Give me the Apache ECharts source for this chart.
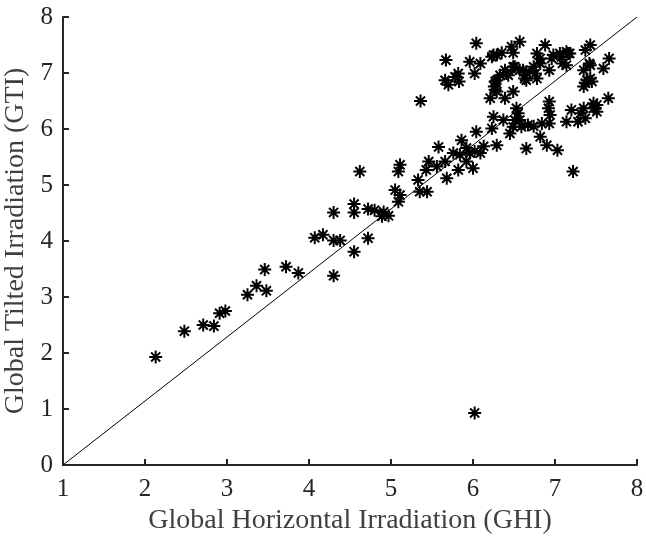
<!DOCTYPE html>
<html>
<head>
<meta charset="utf-8">
<script src="https://cdn.jsdelivr.net/npm/echarts@6/dist/echarts.min.js"></script>
<style>html,body{margin:0;padding:0;background:#fff;}#c{width:646px;height:542px;}</style>
</head>
<body>
<div id="c"></div>
<script>
var xTicks = [1,2,3,4,5,6,7,8];
var yTicks = [0,1,2,3,4,5,6,7,8];
var xName = 'Global Horizontal Irradiation (GHI)';
var yName = 'Global Tilted Irradiation (GTI)';
var refLineX = [1, 8];
var refLineY = [0, 8];
var ghi = [2.13,2.48,2.71,2.84,2.91,2.98,3.25,3.36,3.48,3.46,3.72,3.87,4.07,4.17,4.30,4.38,4.30,4.30,4.55,4.55,4.55,4.72,
4.62,4.72,4.80,4.91,4.89,4.97,5.05,5.11,5.09,5.11,5.09,5.33,5.35,5.44,5.46,5.43,5.56,5.66,5.68,5.76,5.82,6.00,5.92,5.96,6.09,6.13,5.58,5.86,5.92,6.02,6.04,5.84,6.29,6.65,6.82,6.90,7.03,7.22,5.36,6.02,
6.23,6.25,6.37,6.45,6.49,6.51,6.57,6.55,6.53,6.59,6.67,6.74,6.84,6.93,6.94,6.92,6.93,7.14,7.28,7.37,7.31,7.20,7.35,7.47,7.51,7.51,7.65,7.47,6.39,6.21,6.49,6.29,6.27,
5.67,6.04,6.57,6.47,6.49,6.88,6.23,6.29,6.35,5.96,6.09,6.02,5.82,5.78,5.66,5.70,5.83,6.78,6.82,6.98,7.06,7.14,7.18,6.93,6.74,6.65,6.57,6.49,6.39,6.33,6.43,6.78,6.63,6.27,6.26,7.09,7.37,7.43,7.42,7.35,7.59,7.66,7.43,7.37,7.35,7.45,7.39,6.96,6.82,6.76,6.61,6.51,6.25,6.41,6.29,6.65,7.14,7.43,7.08,7.16];
var gti = [1.93,2.39,2.50,2.48,2.71,2.75,3.04,3.20,3.11,3.49,3.54,3.43,4.06,4.11,4.01,4.01,3.38,4.51,3.81,4.66,4.51,4.05,
5.24,4.57,4.55,4.52,4.44,4.45,4.91,4.82,4.70,5.36,5.24,5.09,4.88,4.88,5.42,5.27,5.33,5.42,5.12,5.57,5.27,5.30,5.42,5.57,5.57,5.69,5.68,5.80,5.66,5.60,5.95,5.54,5.71,5.65,5.86,5.71,5.62,5.24,6.50,0.93,
6.01,6.22,6.16,5.92,6.04,6.16,6.16,6.28,6.37,6.04,6.07,6.05,6.10,6.10,6.25,6.37,6.49,6.13,6.13,6.19,6.28,6.34,6.37,6.37,6.31,6.43,6.55,6.46,6.55,6.55,6.67,6.67,6.70,
7.23,7.53,7.56,7.47,7.36,7.50,7.29,7.32,7.36,7.20,7.17,6.99,6.99,6.93,6.87,6.79,6.85,7.35,7.26,7.32,7.35,7.38,7.35,7.05,7.11,7.02,7.05,7.11,7.05,6.96,6.96,6.90,6.90,6.85,6.76,7.17,7.41,7.50,7.17,7.05,7.08,7.26,6.90,6.82,6.76,6.85,6.87,7.26,7.17,6.99,7.05,7.11,7.32,6.99,6.87,6.87,7.14,7.14,7.29,7.35];

var pts = ghi.map(function(v,i){return [v, gti[i]];});
var refLine = refLineX.map(function(v,i){return [v, refLineY[i]];});
var font = '"Liberation Serif", "DejaVu Serif", serif';
var ink = '#262626';
var star = 'path://M10 0 L10 20 M0 10 L20 10 M3 3 L17 17 M3 17 L17 3';

var chart = echarts.init(document.getElementById('c'), null, {renderer:'canvas'});
chart.setOption({
  animation: false,
  backgroundColor: '#fff',
  grid: {left: 63, right: 9, top: 17, bottom: 77, containLabel: false, outerBoundsMode: 'none'},
  xAxis: {
    type: 'value', min: xTicks[0], max: xTicks[xTicks.length-1], interval: 1,
    name: xName, nameLocation: 'middle', nameGap: 42,
    nameTextStyle: {fontFamily: font, fontSize: 28, color: '#404040'},
    axisLine: {show: true, onZero: false, lineStyle: {color: ink, width: 2}},
    axisTick: {show: true, inside: true, length: 6, lineStyle: {color: ink, width: 2}},
    axisLabel: {fontFamily: font, fontSize: 25, color: ink, margin: 12},
    splitLine: {show: false}
  },
  yAxis: {
    type: 'value', min: yTicks[0], max: yTicks[yTicks.length-1], interval: 1,
    name: yName, nameLocation: 'middle', nameGap: 25, nameRotate: 90,
    nameTextStyle: {fontFamily: font, fontSize: 28, color: '#404040'},
    axisLine: {show: true, onZero: false, lineStyle: {color: ink, width: 2}},
    axisTick: {show: true, inside: true, length: 6, lineStyle: {color: ink, width: 2}},
    axisLabel: {fontFamily: font, fontSize: 25, color: ink, margin: 10},
    splitLine: {show: false}
  },
  series: [
    {
      type: 'line', data: refLine, symbol: 'none', silent: true,
      lineStyle: {color: '#000', width: 1}, z: 1
    },
    {
      type: 'scatter', data: pts, symbol: star, symbolSize: 13,
      itemStyle: {color: '#000', borderColor: '#000', borderWidth: 2, opacity: 1},
      emphasis: {disabled: true}, z: 2
    }
  ]
});
</script>
</body>
</html>
